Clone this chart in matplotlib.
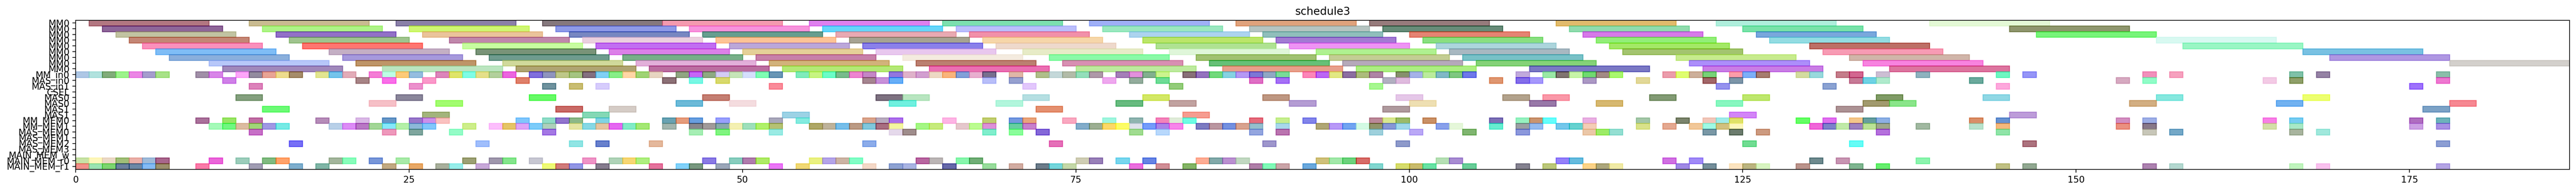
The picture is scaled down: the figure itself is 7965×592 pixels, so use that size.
import matplotlib
matplotlib.use("Agg")
import matplotlib.pyplot as plt
from matplotlib.colors import to_rgb

row_labels = ["MM0"] * 9 + ["MM_in0", "MAS_in0", "MAS_in1", "CSEL", "MAS0", "MAS0", "MAS1", "MAS1",
              "MM_MEM0", "MM_MEM1", "MAS_MEM0", "MAS_MEM1", "MAS_MEM2", "MAS_MEM3",
              "MAIN_MEM_w", "MAIN_MEM_r0", "MAIN_MEM_r1"]
title = "schedule3"

r0_s = [1, 13, 24, 35, 44, 55, 65, 76, 87, 97, 111, 123, 139]
r0_c = ["#b27781", "#c9bc91", "#8a80a8", "#85787d", "#f49ab0", "#de80ee", "#7cdfb0", "#9fb0f8", "#e0a27c", "#977b7c", "#e1bb6c", "#b0eedc", "#e4f9d6"]
r1_s = [2, 14, 25, 36, 46, 56, 66, 77, 88, 98, 112, 125, 145]
r1_c = ["#8e6699", "#aef587", "#cff872", "#8e9ae8", "#f893dc", "#66d6fa", "#bcbefc", "#9be9c0", "#b5c4c2", "#678c79", "#90ddae", "#79e3a9", "#8f966e"]
r2_s = [3, 15, 26, 37, 47, 57, 67, 79, 89, 100, 113, 126, 147]
r2_c = ["#c2c3a2", "#9270c8", "#eac39b", "#7787c2", "#679e8f", "#e9aab2", "#f190aa", "#acd3ee", "#90bfbb", "#e58373", "#d67ae8", "#79a7dc", "#78f57a"]
r3_s = [4, 16, 28, 38, 48, 58, 68, 80, 90, 101, 114, 127, 156]
r3_c = ["#c58675", "#9fc58e", "#c087ab", "#ebd0df", "#fec396", "#a6a392", "#f6d7a9", "#bbe569", "#a27ad4", "#89df80", "#92ee78", "#93dde3", "#d8f9f2"]
r4_s = [5, 17, 29, 39, 49, 59, 69, 81, 91, 102, 115, 130, 158]
r4_c = ["#fb90bb", "#ff7570", "#c8fea0", "#c26ef2", "#bba7da", "#8a80ea", "#efdacc", "#b0e292", "#ee93f5", "#acd5dc", "#a3e866", "#bd6f66", "#99f6c4"]
r5_s = [6, 19, 30, 40, 50, 60, 71, 82, 93, 103, 116, 131, 167]
r5_c = ["#7fbdf6", "#c4afc5", "#799378", "#dd80e8", "#e5d098", "#e8c7ee", "#e7ebc8", "#dff6da", "#b0f290", "#a8b9c1", "#a3c46f", "#f79bb4", "#79c2e2"]
r6_s = [7, 20, 31, 41, 51, 62, 73, 84, 94, 104, 120, 133, 169]
r6_c = ["#8aafdc", "#a699dc", "#6f9b8e", "#77b088", "#c880aa", "#f4ebe0", "#8afba8", "#a1c272", "#c3ce94", "#78c2c8", "#c8eb8e", "#d0b5a9", "#b097e2"]
r7_s = [10, 21, 32, 42, 52, 63, 74, 85, 95, 105, 121, 134, 178]
r7_c = ["#b7c7f9", "#bf9568", "#d0da9b", "#e3afda", "#d2b37b", "#bb7f70", "#d88fb2", "#65c077", "#b5aaba", "#84d278", "#ad8efa", "#f883df", "#d3d1cc"]
r8_s = [11, 23, 33, 43, 53, 64, 75, 86, 96, 109, 122, 136]
r8_c = ["#a088bb", "#bce6c0", "#b0a472", "#bc6ea0", "#b4e876", "#ea6fb2", "#bdea9e", "#e99f8b", "#acee82", "#7a78c4", "#c97de6", "#dc759f"]

r9_s = [0, 1, 2, 3, 4, 5, 6, 9, 10, 12, 13, 14, 15, 16, 18, 19, 20, 22, 23, 24, 25, 27, 28, 29, 30, 31, 32, 34, 35, 36, 37,
        38, 39, 40, 41, 42, 43, 45, 46, 47, 48, 49, 50, 51, 52, 54, 55, 56, 57, 58, 59, 61, 62, 63, 64,
        65, 66, 67, 68, 70, 72, 73, 74, 75, 76, 78, 79, 80, 81, 83, 84, 85, 86, 87, 88, 89, 90,
        92, 93, 94, 95, 96, 97, 99, 100, 101, 102, 103, 104, 108, 110, 111, 112, 113, 114, 115,
        119, 120, 121, 122, 124, 125, 126, 129, 130, 132, 133, 135, 138, 144, 146, 155, 157, 166, 168, 177]
r9_c = ["#aec8e6", "#b1e3de", "#81ac7a", "#9cf38c", "#ec85e6", "#a59cce", "#a8e388", "#a08fa7", "#d885e8",
        "#fda6f9", "#938b9e", "#e8a495", "#eddd8e", "#a58c6a", "#e2e691", "#75c4ec", "#e2acb9", "#f47dd6", "#bffde5", "#fcca78", "#95bde0", "#dd85ba", "#e0e46a", "#80fce6", "#e6e08a", "#b3d19c", "#ec64e0", "#806fdc", "#8f94be", "#bfc788", "#a5c582",
        "#847080", "#80d0f5", "#88ee88", "#ffd6a6", "#9fd474", "#e7d5c1", "#90a582", "#c666f6", "#8eaa82", "#d3ccf4", "#c6e6b8", "#d5dffc", "#80fcb4", "#6a96b6", "#80ecbc", "#c7f582", "#6cfcc8", "#78ba8c", "#ed85d0", "#c586c6", "#9276e0", "#dfb3ca", "#d29ed0", "#eddac4",
        "#f9b47c", "#829fd8", "#e8aecf", "#776f8e", "#dfb7a7", "#b0bf8a", "#c5d8da", "#b3bca8", "#93deba", "#ae98a8", "#a47eb8", "#e290dc", "#82af8e", "#ccf58e", "#887078", "#9472be", "#72da7c", "#86d2e2", "#b698f4", "#7c76d6", "#90a7c4", "#78dc98",
        "#fc86b8", "#bb66f4", "#e2e884", "#8c6ea0", "#adbb7c", "#ae84a4", "#86906c", "#a5b2e8", "#bcec9c", "#80b8c6", "#7ec880", "#6e78ea", "#c0a9dc", "#9ae8a6", "#807470", "#c7f4a8", "#70da70", "#a28a84", "#a9f86e",
        "#ec9cab", "#e0fd70", "#cdb09a", "#78d278", "#fc9caa", "#7db0f8", "#a67c6e", "#d4dc9f", "#98d9dc", "#c47d8a", "#d25f90", "#ccbed4", "#8eb3bf", "#6ef6c2", "#9595f8", "#f290bc", "#f6a0be", "#7fc1a8", "#9582a4", "#8bbfa9"]

r10_s = [11, 21, 23, 26, 33, 44, 46, 48, 59, 60, 61, 68, 70, 77, 79, 81, 88, 90, 98, 99, 106, 108, 109, 113, 117, 122, 124, 133, 134, 135, 142, 153, 155, 164, 166, 177]
r10_c = ["#cf80e8", "#a78486", "#f96fe9", "#fa98c9", "#e0806a", "#8c7076", "#78f8e4", "#d8d96c", "#a58590", "#c890da", "#66aef8", "#b8bff9", "#96a0cf", "#efa8ef", "#93ad9c", "#6edc96", "#e06fc4", "#a570f6", "#b1b0c0", "#dfbade", "#e09670", "#836dea", "#a597fc", "#ab98c4", "#e2d898", "#a26068", "#7c95a8", "#c67a96", "#6ed2e4", "#b0eacc", "#6aaa9c", "#d6a9c0", "#90fcc8", "#f3cbe6", "#8f9f69", "#ee78d0"]

r11_s = [13, 25, 35, 37, 39, 52, 71, 82, 97, 123, 131, 144, 175]
r11_c = ["#dd82ba", "#ec90cc", "#6f929e", "#c9bd72", "#d7ccfc", "#fa8c9a", "#e2c8fc", "#93cc7a", "#a6f890", "#9592ee", "#8ba2d2", "#fea8dc", "#9e72fc"]

r13_s = [12, 24, 34, 47, 60, 62, 71, 80, 89, 99, 107, 110, 118, 125, 135, 143, 156, 167]
r13_c = ["#84a07e", "#8a869a", "#66fa66", "#c47e72", "#7d7180", "#b9e6c0", "#b6e0e2", "#d3e85e", "#bf9782", "#e6c7e8", "#b3a28c", "#fb98a8", "#829a74", "#bee76e", "#7f9b66", "#90d8e6", "#86e8e0", "#edff70"]
r14_s = [22, 27, 45, 49, 61, 69, 78, 82, 91, 100, 109, 114, 123, 134, 136, 154, 165, 178]
r14_c = ["#f6c0c8", "#a2fc70", "#6cbad8", "#f4dce0", "#70f0e0", "#b2f6dc", "#68bb80", "#c2a2a0", "#b49cd4", "#efdfb2", "#9878a8", "#d6b870", "#88f8c0", "#a19a6e", "#8ae68a", "#d2ae82", "#72b2f2", "#f68892"]
r15_s = [14, 36, 40, 72, 98, 132, 176]
r15_c = ["#6cfa76", "#c96a66", "#d5ccc6", "#e49070", "#af9a9e", "#ac9294", "#7ca2c6"]
r16_s = [26, 38, 53, 83, 124, 145]
r16_c = ["#a3b47c", "#84d8b6", "#9cd2e6", "#f69c90", "#d385f8", "#bd9cda"]

r17_s = [9, 11, 13, 18, 21, 23, 25, 26, 27, 33, 35, 36, 37, 39, 44, 45, 46, 48, 52, 54, 59, 60, 61,
         65, 68, 70, 71, 74, 77, 79, 81, 82, 83, 88, 90, 92, 97, 98, 99, 101, 106, 108, 109, 110, 113, 117,
         120, 122, 123, 124, 129, 131, 133, 134, 135, 142, 144, 153, 155, 164, 166, 175, 177]
r17_c = ["#a9719a", "#98e464", "#c06fa4", "#b58cb8", "#dab8e6", "#6796c6", "#9878ca", "#cc90ea", "#fac2c0", "#80c6fc", "#8fdcc8", "#9174cc", "#8cb888", "#80d4e4", "#68a2b2", "#e69c7c", "#689ede", "#989ffc", "#a9a8bc", "#84ecdf", "#daa48c", "#b9abbe", "#ad70ec",
         "#feb4e4", "#c1ce70", "#7498e0", "#e8a47c", "#f9a8c0", "#a0f6de", "#8eb4b0", "#f382ba", "#e0ecd8", "#70fce4", "#e46c7c", "#c6ef90", "#8284ea", "#bb8898", "#d8e790", "#9bba68", "#c99062", "#7c70b6", "#96f2c0", "#ca9470", "#66fefc", "#e8b0e2", "#a4c8a8",
         "#7b846c", "#f2c8ba", "#a0ece9", "#dfe368", "#66fe66", "#e070ee", "#f4c68a", "#669e9e", "#8db0e4", "#d98e68", "#6892d0", "#d28ec0", "#9eaee6", "#f880e6", "#76ccf2", "#b06dc0", "#6db2bc"]

r18_s = [10, 11, 12, 13, 14, 15, 19, 20, 21, 22, 23, 24, 25, 26, 29, 31, 32, 33, 34, 35, 37,
         38, 39, 40, 41, 42, 44, 46, 47, 48, 49, 50, 51, 52, 55, 56, 57, 58, 59, 60, 61, 63, 64,
         66, 67, 68, 70, 71, 75, 76, 77, 78, 79, 80, 81, 82, 84, 85, 86, 87, 88, 90,
         93, 94, 95, 96, 97, 98, 99, 102, 103, 106, 108, 109, 111, 112, 113, 117,
         119, 121, 122, 123, 124, 130, 131, 132, 133, 134, 135, 138, 142, 144, 153, 155, 164, 166, 175, 177]
r18_c = ["#a4fab8", "#70f880", "#dcbca0", "#a0d678", "#a098e4", "#76eae6", "#b9d0e8", "#dc8cf6", "#b878c4", "#a2d696", "#86e8fa", "#b4f0a8", "#8cb8d8", "#82c8fa", "#cdee8a", "#fcbefc", "#e6c468", "#dea4f6", "#7cccfa", "#aed0bc", "#e6e6a4",
         "#86d8e6", "#e6c4a0", "#e668f2", "#82ecc8", "#a4e874", "#a1b5ae", "#86868c", "#a09a9a", "#88aaaa", "#f4f0b2", "#9ee0bc", "#b0f26a", "#b5c174", "#aea764", "#bfb39a", "#76beea", "#bb9a84", "#80c8dc", "#a86e80", "#f4f6a0", "#a4f784", "#c6ec7c",
         "#e6c8cc", "#bcfc90", "#dc90d8", "#66cfa0", "#c880cc", "#82acca", "#9cae92", "#fcd868", "#fcfc62", "#dee2ec", "#749cfa", "#a884e8", "#f884ea", "#7c7ac2", "#ba96a0", "#7490e0", "#d8a28e", "#94bece", "#a8d8ec",
         "#b0a674", "#b898f8", "#72a4f2", "#d4fae4", "#90946a", "#8696d6", "#a0d8ec", "#88a0ec", "#e6f8da", "#66eed0", "#9a9fa2", "#94baf0", "#74c8ec", "#66d2d0", "#f4ceb6", "#d9e28a",
         "#e4a890", "#f2c898", "#9efae6", "#d2c07e", "#fcf8bc", "#f066d8", "#7c82ca", "#c0eaa8", "#9c80c0", "#bce296", "#9ea68c", "#a0b8a0", "#b8e2cc", "#f4b87c", "#ea9080", "#887888", "#d4e0a8", "#a8e8c6", "#cca0e4", "#a890e4"]

r19_s = [13, 23, 25, 28, 35, 46, 48, 52, 61, 62, 68, 70, 72, 79, 81, 88, 90, 97, 100, 104, 108, 113, 114, 115, 122, 124, 126, 135, 144, 155, 157, 166, 168]
r19_c = ["#c870c8", "#ee98bc", "#7fa69e", "#94fcc8", "#a478e4", "#a6eeb4", "#80f480", "#9aece4", "#e6daec", "#9f8d8c", "#80eecc", "#8afe9a", "#8468d8", "#a0dc90", "#b8d8fc", "#94a6e0", "#ba74b0", "#9ed0dc", "#baa8f6", "#80b670", "#8c98dc", "#ecc8a8", "#9ceb66", "#94dfd2", "#7a98a6", "#6c7c6e", "#cc9a80", "#b470dc", "#90e4a8", "#c8c6b8", "#74a8c8", "#a8b49e", "#a0e8dc"]

r21_s = [16, 30, 37, 39, 43, 59, 73, 89, 99, 125, 133, 146, 177]
r21_c = ["#7870f6", "#a0befc", "#90e6e4", "#6880cc", "#e4b89c", "#8cacea", "#e670b8", "#9e96cc", "#8e9acb", "#70dc92", "#66fcf6", "#ac727e", "#8c9ed4"]

r24_s = [0, 1, 2, 3, 4, 5, 6, 10, 12, 14, 15, 19, 20, 22, 24, 29, 31, 32, 34,
         38, 40, 41, 42, 47, 49, 50, 51, 55, 56, 57, 58, 63, 64,
         66, 67, 75, 76, 78, 80, 84, 85, 86, 87,
         93, 94, 95, 96, 102, 103, 111, 112, 119, 121, 130, 132, 138]
r24_c = ["#c8e3a6", "#fdf8bc", "#ecd9c7", "#9fbe78", "#eab0a8", "#9fbcda", "#a8668c", "#ea66da", "#9ccdbc", "#80ba80", "#ffa26a", "#a3b69c", "#88fdbc", "#7896d8", "#a8eaa8", "#9ca074", "#9f97ac", "#84e68c", "#c8c8d2",
         "#ee94c6", "#b0d4b8", "#f6d674", "#aeee80", "#8a7ae4", "#88cebe", "#b07cac", "#aeea64", "#eaf282", "#b4a4e8", "#ccb4a4", "#82fec6", "#b866a0", "#bcb6b6",
         "#88f6ac", "#70ae76", "#cfcdb4", "#9880b8", "#78d6ee", "#6684e4", "#feac94", "#82aaaa", "#ba90d0", "#c2d8c2",
         "#cfc07a", "#a2e8aa", "#6cd27c", "#d66c68", "#b6e0b4", "#a88cd2", "#9480fa", "#66bcde", "#d070e2", "#a08af8", "#6e8a8e", "#c895b2", "#8cf4ae"]

r25_s = [0, 1, 2, 3, 4, 5, 6, 9, 13, 16, 18, 23, 25, 27, 28, 30, 35, 36, 37,
         39, 43, 45, 46, 48, 52, 54, 59, 61, 62,
         65, 68, 70, 72, 73, 74, 79, 81, 83, 88, 89, 90,
         92, 97, 99, 100, 101, 104, 108, 110, 113, 114, 115,
         120, 122, 124, 125, 126, 129, 133, 135, 144, 146, 155, 157, 166, 168, 177]
r25_c = ["#f2908a", "#9ae4b2", "#7cd670", "#6a7f9e", "#6c88a6", "#84bcf4", "#9c8f6c", "#fb7aa8", "#a09cb2", "#7eaece", "#80b6a6", "#c2aa82", "#e8a866", "#a8b09c", "#98eeea", "#c8a8d8", "#eefa76", "#d07a7a", "#9296e6",
         "#857c8e", "#e4729c", "#82d2fa", "#78987f", "#9aa6b8", "#ea76f6", "#f0d874", "#f4d8c8", "#8ea2d2", "#aab4e2",
         "#6668a8", "#98dc9c", "#d2ada2", "#6c7c8a", "#74d6dc", "#c4d8a8", "#ec6ede", "#d08e96", "#84b464", "#b07ea8", "#80fab8", "#caa4a8",
         "#6aa8dc", "#82d6cf", "#d6dc6c", "#c9bc6c", "#68e2a4", "#68ce98", "#858290", "#bcc87a", "#fcd488", "#aca67c", "#f0eaa6",
         "#9f88e6", "#748e9a", "#fce4c0", "#bcb480", "#d8f4c2", "#ba948c", "#7fb690", "#66ee6e", "#c0c084", "#92a892", "#ac82b0", "#b4d8d0", "#c0f4be", "#f9c2ee", "#b4a4e4"]

# (row index, duration, starts, colours as they appear on white)
row_data = [
    (0, 9, r0_s, r0_c), (1, 9, r1_s, r1_c), (2, 9, r2_s, r2_c), (3, 9, r3_s, r3_c), (4, 9, r4_s, r4_c),
    (5, 9, r5_s, r5_c), (6, 9, r6_s, r6_c), (7, 9, r7_s, r7_c), (8, 9, r8_s, r8_c),
    (9, 1, r9_s, r9_c), (10, 1, r10_s, r10_c), (11, 1, r11_s, r11_c),
    (13, 2, r13_s, r13_c), (14, 2, r14_s, r14_c), (15, 2, r15_s, r15_c), (16, 2, r16_s, r16_c),
    (17, 1, r17_s, r17_c), (18, 1, r18_s, r18_c), (19, 1, r19_s, r19_c), (21, 1, r21_s, r21_c),
    (24, 1, r24_s, r24_c), (25, 1, r25_s, r25_c),
]

ALPHA = 0.6


def base_colour(hex_colour):
    """Colour that shows as hex_colour on white once drawn with ALPHA."""
    return tuple(min(1.0, max(0.0, (v - (1 - ALPHA)) / ALPHA)) for v in to_rgb(hex_colour))


fig, ax = plt.subplots(figsize=(39.825, 2.96), dpi=200)
for row, duration, starts, colours in row_data:
    for start, colour in zip(starts, colours, strict=True):
        c = base_colour(colour)
        ax.barh(row, duration, left=start, height=1.0, color=c, edgecolor=c, alpha=ALPHA)

ax.set_yticks(range(len(row_labels)))
ax.set_yticklabels(row_labels)
ax.set_xticks(range(0, 176, 25))
ax.set_xlim(0, 187)
ax.set_ylim(25.506, -0.466)
ax.set_title(title)
fig.subplots_adjust(left=234 / 7965, right=7945 / 7965, top=1 - 62.7 / 592, bottom=1 - 525 / 592)
fig.savefig("out.png", dpi=200)
